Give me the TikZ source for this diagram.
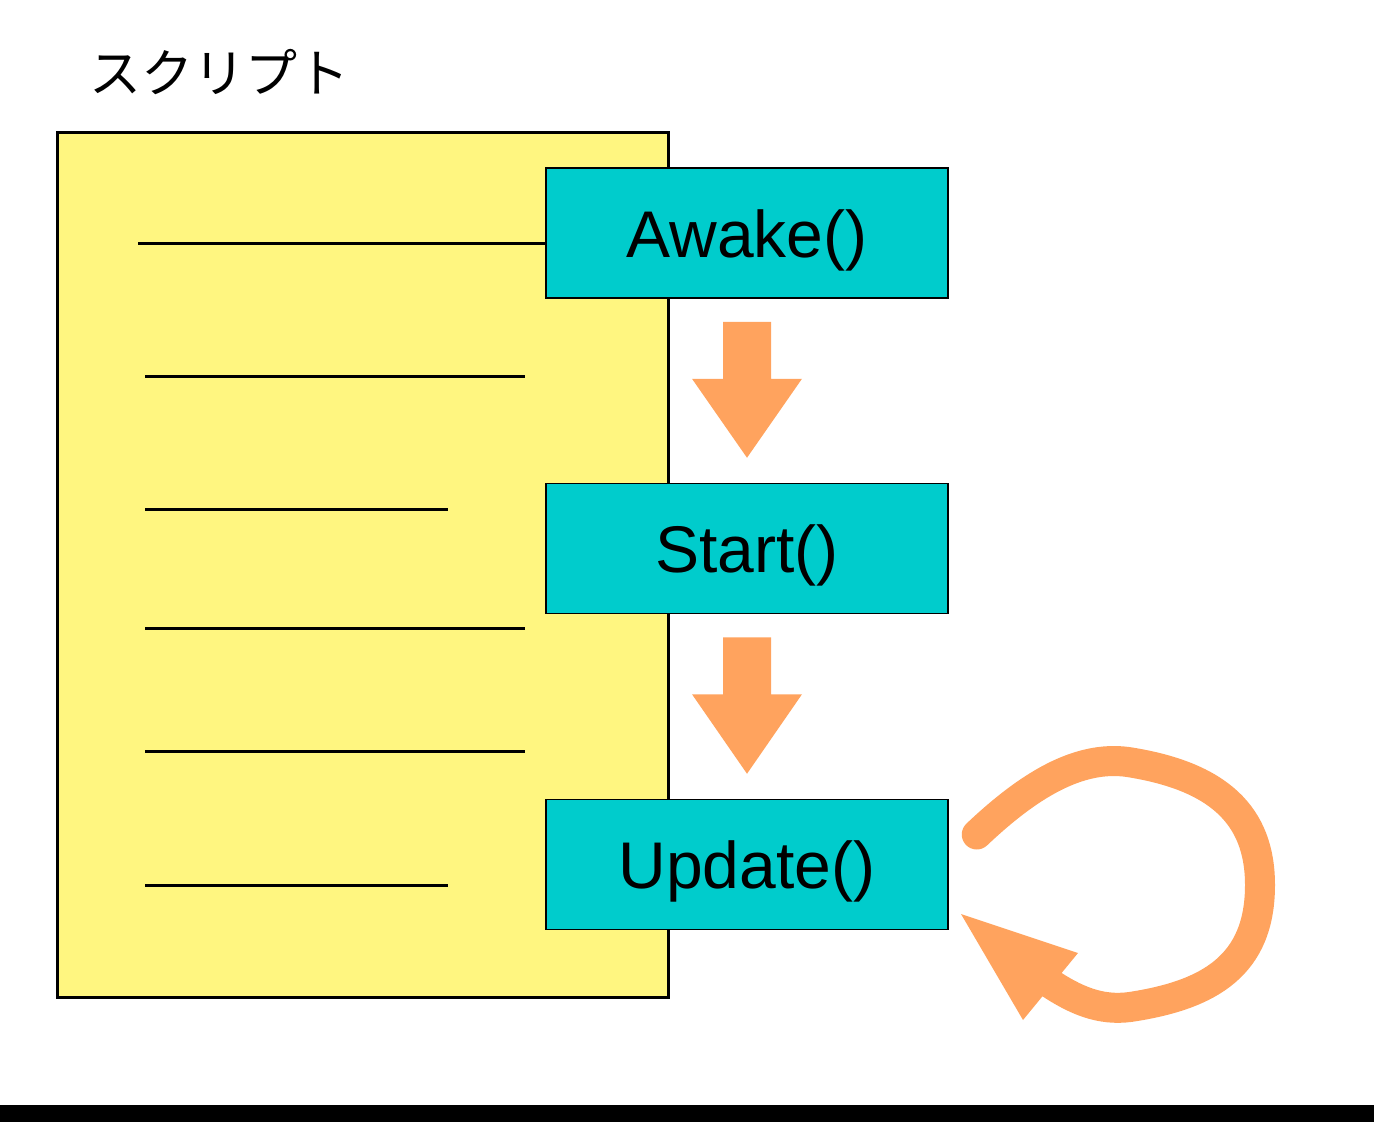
\documentclass[tikz,border=0pt]{standalone}
\usepackage{fontspec}
\setmainfont{Liberation Sans}
\newfontfamily\cjk{Noto Sans CJK JP}
\usetikzlibrary{calc}
\definecolor{scriptyellow}{RGB}{255,246,128}
\definecolor{boxcyan}{RGB}{0,204,204}
\definecolor{arroworange}{RGB}{255,163,94}
\begin{document}
\begin{tikzpicture}[x=1pt,y=-1pt,
  fn/.style={draw=black,line width=1.5pt,fill=boxcyan,minimum width=402pt,minimum height=130pt,
    inner sep=0pt,text height=60pt,text depth=12pt,font=\fontsize{66}{78}\selectfont},
  codeline/.style={line width=3pt},
  flowarrow/.style={fill=arroworange}]
\useasboundingbox (0,0) rectangle (1374,1122);
\fill[black] (0,1105) rectangle (1374,1122);
\node[font=\cjk\fontsize{52}{60}\selectfont,anchor=center] (title) at (219,72) {スクリプト};
\draw[line width=3pt,fill=scriptyellow] (57,132) rectangle (668,997);
\node[fn] (awake) at (747,233) {Awake()};
\node[fn] (start) at (747,548.5) {Start()};
\node[fn] (update) at (747,864.5) {Update()};
\coordinate (l1) at (138,243);
\draw[codeline] (l1) -- (l1 -| awake.west);
\coordinate (l2a) at (145,376); \coordinate (l2b) at (525,376);
\draw[codeline] (l2a) -- (l2b);
\coordinate (l3a) at (145,509); \coordinate (l3b) at (448,509);
\draw[codeline] (l3a) -- (l3b);
\coordinate (l4a) at (145,628); \coordinate (l4b) at (525,628);
\draw[codeline] (l4a) -- (l4b);
\coordinate (l5a) at (145,751); \coordinate (l5b) at (525,751);
\draw[codeline] (l5a) -- (l5b);
\coordinate (l6a) at (145,885); \coordinate (l6b) at (448,885);
\draw[codeline] (l6a) -- (l6b);
% down arrows
\foreach \a/\b in {awake/start,start/update}{
  \fill[flowarrow] ($(\a.south)+(-24,23)$) -- ++(48,0) -- ++(0,57) -- ++(31,0)
    -- ($(\b.north)+(0,-25)$) -- ($(\a.south)+(-55,80)$) -- ++(31,0) -- cycle;
}
% loop arrow
\coordinate (ls) at ($(update.east)+(28,-30)$);
\coordinate (le) at ($(update.east)+(100,118)$);
\draw[arroworange,line width=30pt,line cap=round] (ls)
  .. controls (1028,786) and (1078,755) .. (1128,762)
  .. controls (1218,776) and (1260,815) .. (1260,885)
  .. controls (1260,965) and (1210,995) .. (1130,1007)
  .. controls (1100,1011) and (1075,1000) .. (le);
\fill[flowarrow] (961,914) -- (1078,953) -- (1023,1020) -- cycle;
\end{tikzpicture}
\end{document}
